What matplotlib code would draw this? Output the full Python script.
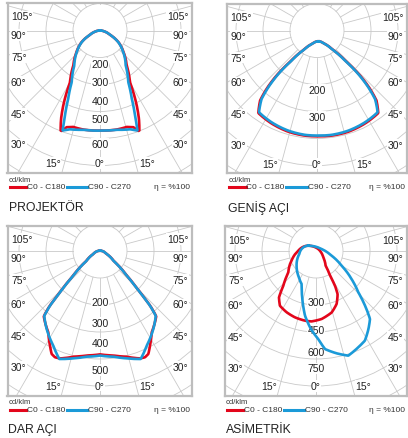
"""
Photometric polar diagrams (cd/klm) for four beam types.
"""
import numpy as np
import matplotlib
matplotlib.use('Agg')
import matplotlib.pyplot as plt
from matplotlib.lines import Line2D

plt.rcParams['font.family'] = ['Liberation Sans', 'DejaVu Sans']

W, H = 408, 439
RED = '#e3061b'
BLUE = '#1b9ad8'
GRID = '#c9c9c9'
FRAME = '#bdbdbd'

# angles from nadir (deg) and intensities (cd/klm)
proj_ang_c0 = [0, 9.6, 15.5, 19, 21.3, 23.8, 26.1, 30.1, 37.3, 47, 57.4, 66.7, 78, 90]
proj_c0 = [556, 558, 556, 568, 602, 536, 464, 332, 244, 180, 123, 62, 25, 0]
proj_ang_c90 = [0, 9.5, 17, 20.5, 22.4, 25, 28.7, 36.3, 47, 57.4, 66.7, 78, 90]
proj_c90 = [556, 559, 574, 593, 511, 418, 327, 241, 177, 121, 61, 25, 0]

wide_ang = [0, 8, 18.6, 30, 39.9, 44.5, 47.4, 50.7, 54.1, 60, 70, 90]
wide_c0 = [380, 381, 381, 378, 374, 332, 281, 215, 138, 65, 21, 0]
wide_c90 = [377, 378, 377, 374, 370, 324, 272, 207, 132, 62, 20, 0]

narrow_ang_c0 = [0, 7.2, 13.9, 20.4, 22.9, 25.1, 27.8, 32.3, 40.6, 42.3, 43.8, 46.9, 53.1, 63.7, 90]
narrow_c0 = [432, 440, 455, 479, 482, 475, 447, 403, 360, 313, 245, 155, 72, 31, 0]
narrow_ang_c90 = [0, 7.2, 13.9, 20.6, 26.2, 34.2, 40.6, 42.3, 43.8, 46.9, 53.1, 63.7, 90]
narrow_c90 = [437, 445, 462, 482, 441, 395, 357, 310, 241, 152, 70, 31, 0]

# asymmetric: full range, negative = left half
asym_ang_c0 = [-90, -63.4, -50.3, -36.9, -32, -29.6, -25.3, -18, -10.5, -2.5, 2.5,
               10.3, 19.3, 25.9, 31.2, 33.7, 35.9, 40.9, 52, 71.7, 90]
asym_c0 = [0, 62, 116, 185, 262, 330, 369, 389, 405, 417, 421,
           414, 393, 360, 314, 267, 206, 147, 106, 58, 0]
asym_ang_c90 = [-90, -71.6, -47.3, -30.3, -18.4, -9.9, -6.4, -2.7, 1.8, 6.1, 9.2, 14.7,
                20, 26.2, 30.8, 35.8, 40.1, 43.4, 47, 52.4, 59, 66.8, 76, 90]
asym_c90 = [0, 29, 68, 129, 176, 216, 298, 389, 463, 522, 582, 618,
            650, 629, 614, 571, 532, 459, 380, 303, 216, 141, 76, 0]

angle_labels = ['105°', '90°', '75°', '60°', '45°', '30°']
titles = ['PROJEKTÖR', 'GENİŞ AÇI', 'DAR AÇI', 'ASİMETRİK']
ring_labels = [['200', '300', '400', '500', '600'],
               ['200', '300'],
               ['200', '300', '400', '500'],
               ['300', '450', '600', '750']]

# layout in pixels (image coords, y down)
ANGLE_LABEL_Y = [13.5, 32, 54, 79, 111, 141.5]
RINGS = [27, 54, 81, 108, 135, 162, 189]
PANELS = [
    dict(box=(7.5, 4, 191.5, 174), center=(100, 31.5), origin=(100, 31.5), scale=0.18,
         ring_y=[33.5, 51.8, 70.2, 88.5, 113.5]),
    dict(box=(227, 4.5, 406.5, 174), center=(317, 31.5), origin=(318.3, 42.3), scale=0.25,
         ring_y=[59.5, 86.2]),
    dict(box=(7.5, 226.5, 191.5, 396.5), center=(100, 252), origin=(100, 251.7), scale=0.24,
         ring_y=[51.3, 72, 92.3, 119]),
    dict(box=(224.5, 227, 406.5, 396.5), center=(316, 252), origin=(308.3, 246.7), scale=0.18,
         ring_y=[51.3, 79, 100.7, 117.3]),
]


def mirror(ang, val):
    ang = np.asarray(ang, float)
    val = np.asarray(val, float)
    return np.concatenate([-ang[::-1], ang[1:]]), np.concatenate([val[::-1], val[1:]])


def densify(ang, val, step=0.5):
    a = np.arange(ang[0], ang[-1] + step / 2, step)
    return a, np.interp(a, ang, val)


def to_xy(ang, val, scale, ox, oy):
    a = np.radians(ang)
    r = np.asarray(val) * scale
    return ox + r * np.sin(a), oy - r * np.cos(a)


curves = [
    (mirror(proj_ang_c0, proj_c0), mirror(proj_ang_c90, proj_c90)),
    (mirror(wide_ang, wide_c0), mirror(wide_ang, wide_c90)),
    (mirror(narrow_ang_c0, narrow_c0), mirror(narrow_ang_c90, narrow_c90)),
    ((np.array(asym_ang_c0, float), np.array(asym_c0, float)),
     (np.array(asym_ang_c90, float), np.array(asym_c90, float))),
]

fig = plt.figure(figsize=(W / 100, H / 100), dpi=100)


def fx(x):
    return x / W


def fy(y):
    return 1 - y / H


for p, (c0, c90), title, rl in zip(PANELS, curves, titles, ring_labels):
    bl, bt, br, bb = p['box']
    cx, cy = p['center']
    ax = fig.add_axes([fx(bl), fy(bb), (br - bl) / W, (bb - bt) / H])
    ax.set_xlim(bl - cx, br - cx)
    ax.set_ylim(cy - bb, cy - bt)
    ax.set_xticks([])
    ax.set_yticks([])
    for s in ax.spines.values():
        s.set_color(FRAME)
        s.set_linewidth(1.6)

    # grid
    for r in RINGS:
        ax.add_patch(plt.Circle((0, 0), r, fill=False, color=GRID, lw=0.6, zorder=1))
    for a in np.radians(np.arange(0, 360, 15)):
        ax.plot([RINGS[0] * np.sin(a), 300 * np.sin(a)],
                [-RINGS[0] * np.cos(a), -300 * np.cos(a)], color=GRID, lw=0.6, zorder=1)

    box = dict(facecolor='white', edgecolor='none', pad=0.4)
    for lab, ly in zip(angle_labels, ANGLE_LABEL_Y):
        y = cy - (bt + ly)
        ax.text(bl - cx + 3.5, y, lab, ha='left', va='center', fontsize=7.5,
                color='#222222', bbox=box, zorder=3)
        ax.text(br - cx - 3, y, lab, ha='right', va='center', fontsize=7.5,
                color='#222222', bbox=box, zorder=3)
    yb = cy - (bt + 160)
    for x, lab in [(-47, '15°'), (0, '0°'), (47, '15°')]:
        ax.text(x, yb, lab, ha='center', va='center', fontsize=7.5,
                color='#222222', bbox=box, zorder=3)
    for lab, ry in zip(rl, p['ring_y']):
        ax.text(0, -ry, lab, ha='center', va='center', fontsize=7.5,
                color='#222222', bbox=box, zorder=3)

    ox, oy = p['origin'][0] - cx, cy - p['origin'][1]
    for (ang, val), col, z in [(c0, RED, 4), (c90, BLUE, 5)]:
        a, v = densify(ang, val)
        x, y = to_xy(a, v, p['scale'], ox, oy)
        ax.plot(x, y, color=col, lw=1.9, zorder=z, solid_joinstyle='round')

    # legend and title under the frame
    fig.text(fx(bl + 1.5), fy(bb + 6), 'cd/klm', fontsize=5.5, color='#333333',
             ha='left', va='center')
    ly = fy(bb + 14)
    fig.add_artist(Line2D([fx(bl + 2), fx(bl + 18.5)], [ly, ly], color=RED, lw=2.2))
    fig.text(fx(bl + 19.5), ly, 'C0 - C180', fontsize=6, color='#333333', ha='left', va='center')
    fig.add_artist(Line2D([fx(bl + 59), fx(bl + 79.5)], [ly, ly], color=BLUE, lw=2.2))
    fig.text(fx(bl + 80.5), ly, 'C90 - C270', fontsize=6, color='#333333', ha='left', va='center')
    fig.text(fx(br - 1.5), ly, 'η = %100', fontsize=6, color='#333333', ha='right', va='center')
    fig.text(fx(bl + 1), fy(bb + 34), title, fontsize=8.8, color='#222222', ha='left', va='center')

fig.savefig('out.png', dpi=100)
